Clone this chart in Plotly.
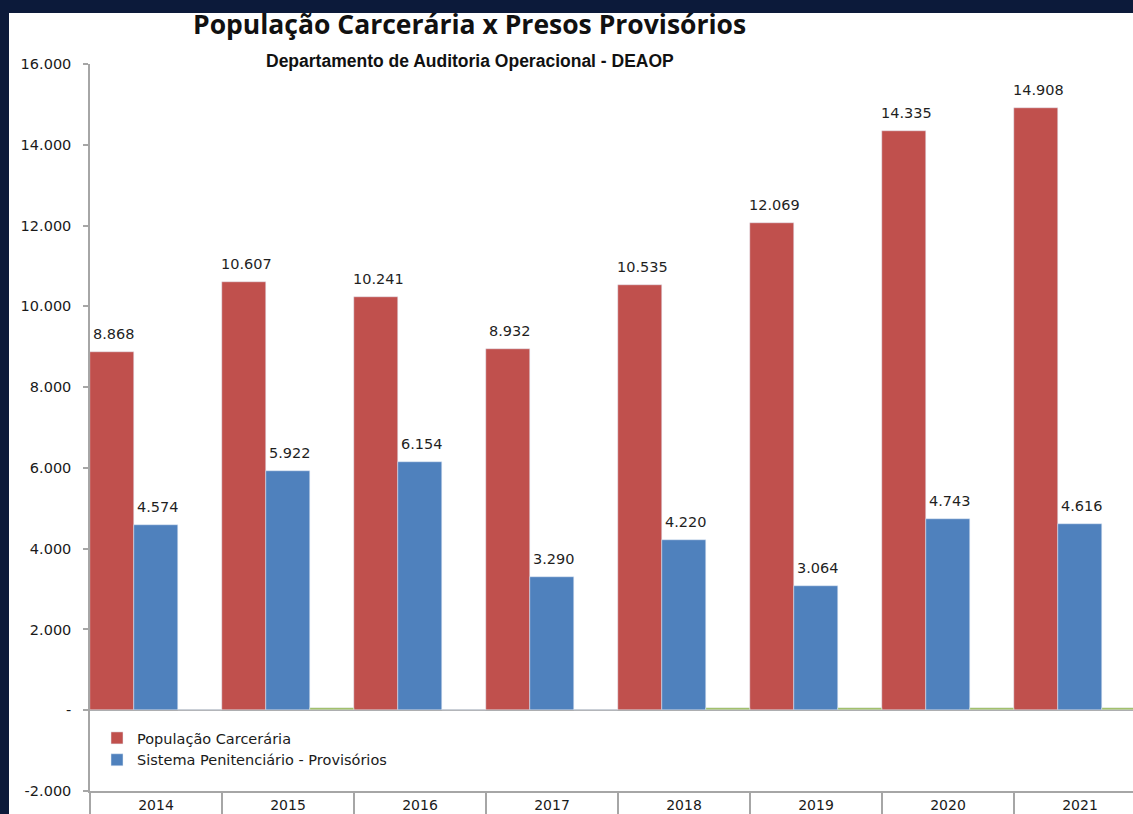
import plotly.graph_objects as go

years = ["2014", "2015", "2016", "2017", "2018", "2019", "2020", "2021"]
populacao = [8868, 10607, 10241, 8932, 10535, 12069, 14335, 14908]
provisorios = [4574, 5922, 6154, 3290, 4220, 3064, 4743, 4616]
terceira = [0, 50, 0, 0, 50, 50, 50, 50]

ytickvals = [-2000, 0, 2000, 4000, 6000, 8000, 10000, 12000, 14000, 16000]
yticktext = ["-2.000", "-", "2.000", "4.000", "6.000", "8.000", "10.000", "12.000", "14.000", "16.000"]

W, H = 1133, 814
L, R, T, B = 90, 0, 64, 23
PW = W - L - R
PH = H - T - B

def px_x(p):
    return (p - L) / PW

def px_y(p):
    return (H - B - p) / PH

def fmt(v):
    return f"{v:,}".replace(",", ".")

label_font = dict(family="DejaVu Sans", size=14.5, color="#1f1f1f")

fig = go.Figure()
fig.add_trace(go.Bar(
    x=years, y=populacao, name="População Carcerária",
    marker=dict(color="#C0504D"),
))
fig.add_trace(go.Bar(
    x=years, y=provisorios, name="Sistema Penitenciário - Provisórios",
    marker=dict(color="#4F81BD"),
))
fig.add_trace(go.Bar(
    x=years, y=terceira, name="", showlegend=False,
    marker=dict(color="#9BBB59"),
))

annotations = []
for series, shift in ((populacao, -42), (provisorios, 2)):
    for i, v in enumerate(series):
        annotations.append(dict(
            x=i, y=v, xref="x", yref="y", text=fmt(v), showarrow=False,
            xanchor="center", yanchor="bottom", xshift=shift, yshift=8,
            font=label_font,
        ))

annotations += [
    dict(text="<b>População Carcerária x Presos Provisórios</b>",
         xref="paper", yref="paper", x=px_x(469), y=px_y(24),
         xanchor="center", yanchor="middle", showarrow=False,
         font=dict(family="Open Sans", size=26.5, color="#111111")),
    dict(text="<b>Departamento de Auditoria Operacional - DEAOP</b>",
         xref="paper", yref="paper", x=px_x(470), y=px_y(61),
         xanchor="center", yanchor="middle", showarrow=False,
         font=dict(family="Liberation Sans", size=17.5, color="#111111")),
]

fig.update_layout(
    width=W, height=H,
    margin=dict(l=L, r=R, t=T, b=B, pad=0),
    paper_bgcolor="#0c1a3a",
    plot_bgcolor="white",
    barmode="group", bargap=0, bargroupgap=0,
    showlegend=True,
    legend=dict(
        x=px_x(97), y=px_y(722), xanchor="left", yanchor="top",
        bgcolor="rgba(0,0,0,0)",
        font=dict(family="DejaVu Sans", size=14.5, color="#1a1a1a"),
        itemwidth=30, tracegroupgap=0,
    ),
    xaxis=dict(
        type="category", range=[-0.5, 7.5 - 13 / 132],
        showline=True, linecolor="#a6a6a6", linewidth=1.5,
        ticks="outside", tickson="boundaries", ticklen=23, tickcolor="#a6a6a6",
        tickwidth=1.5,
        tickfont=dict(family="DejaVu Sans", size=14, color="#1a1a1a"),
        showgrid=False, fixedrange=True,
    ),
    yaxis=dict(
        range=[-2000, 16000],
        tickvals=ytickvals, ticktext=yticktext,
        showline=True, linecolor="#a6a6a6", linewidth=1.5,
        ticks="outside", ticklen=5, tickcolor="#a6a6a6", tickwidth=1.5,
        ticklabelstandoff=9,
        tickfont=dict(family="DejaVu Sans", size=14.5, color="#1a1a1a"),
        showgrid=False,
        zeroline=True, zerolinecolor="#a6a6a6", zerolinewidth=2,
    ),
    shapes=[dict(
        type="rect", xref="paper", yref="paper", layer="below",
        x0=px_x(9), x1=px_x(1140), y0=px_y(820), y1=px_y(13),
        fillcolor="white", line=dict(width=0),
    )],
    annotations=annotations,
)

fig.write_html("out.html")
